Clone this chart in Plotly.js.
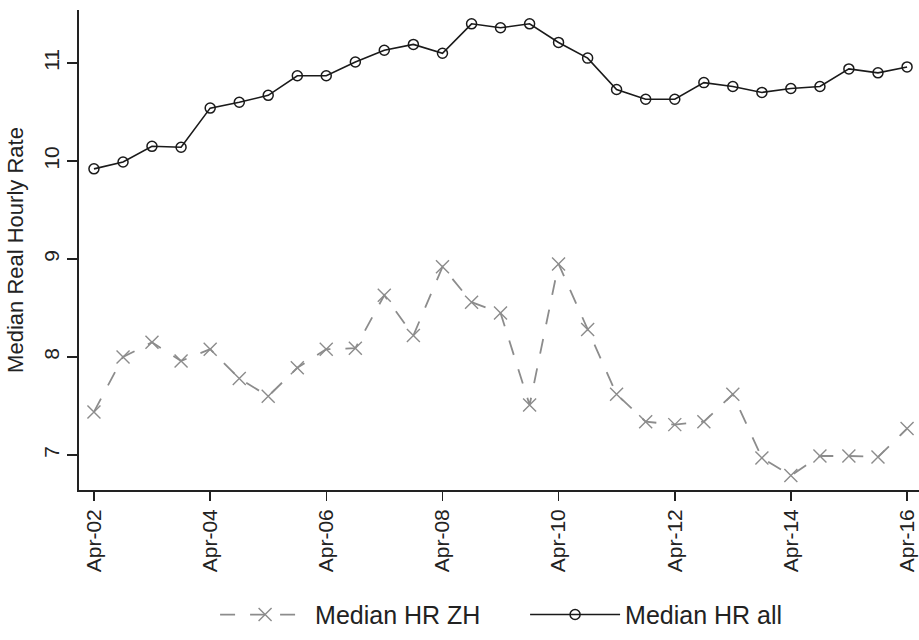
<!DOCTYPE html>
<html>
<head>
<meta charset="utf-8">
<script src="https://cdn.plot.ly/plotly-3.0.1.min.js"></script>
<style>html,body{margin:0;padding:0;background:#fff;} #chart{width:919px;height:640px;}</style>
</head>
<body>
<div id="chart"></div>
<script>
const periods = ["2002-04-01","2002-10-01","2003-04-01","2003-10-01","2004-04-01","2004-10-01",
  "2005-04-01","2005-10-01","2006-04-01","2006-10-01","2007-04-01","2007-10-01",
  "2008-04-01","2008-10-01","2009-04-01","2009-10-01","2010-04-01","2010-10-01",
  "2011-04-01","2011-10-01","2012-04-01","2012-10-01","2013-04-01","2013-10-01",
  "2014-04-01","2014-10-01","2015-04-01","2015-10-01","2016-04-01"];
const medianZH = [7.44,8.00,8.15,7.96,8.08,7.78,7.60,7.89,8.08,8.09,8.63,8.22,8.92,
  8.56,8.45,7.51,8.95,8.28,7.62,7.34,7.31,7.34,7.62,6.97,6.79,6.99,6.99,6.98,7.27];
const medianAll = [9.92,9.99,10.15,10.14,10.54,10.60,10.67,10.87,10.87,11.01,11.13,11.19,11.10,
  11.40,11.36,11.40,11.21,11.05,10.73,10.63,10.63,10.80,10.76,10.70,10.74,10.76,10.94,10.90,10.96];
const tickDates = ["2002-04-01","2004-04-01","2006-04-01","2008-04-01","2010-04-01","2012-04-01","2014-04-01","2016-04-01"];
const yTicks = [7,8,9,10,11];

const font = "Liberation Sans, Arial, sans-serif";
const traces = [
  {x: periods, y: medianZH, name: "Median HR ZH", type: "scatter", mode: "lines+markers",
   line: {color: "#8c8c8c", width: 1.8, dash: "longdash"},
   marker: {symbol: "x-thin-open", size: 13, color: "#8c8c8c", line: {color: "#8c8c8c", width: 1.4}}},
  {x: periods, y: medianAll, name: "Median HR all", type: "scatter", mode: "lines+markers",
   line: {color: "#1a1a1a", width: 1.6},
   marker: {symbol: "circle-open", size: 10, color: "#1a1a1a", line: {color: "#1a1a1a", width: 1.5}}}
];
const layout = {
  width: 919, height: 640,
  margin: {l: 79, r: 0, t: 10, b: 150},
  paper_bgcolor: "#fff", plot_bgcolor: "#fff",
  font: {family: font, color: "#222", size: 21},
  showlegend: true,
  legend: {orientation: "h", x: 0.162, xanchor: "left", y: -0.26, yanchor: "middle",
    font: {family: font, size: 25, color: "#222"}, itemwidth: 90, entrywidth: 205,
    bgcolor: "rgba(0,0,0,0)"},
  xaxis: {type: "date", range: ["2001-12-28", "2016-06-15"], tickvals: tickDates, tickformat: "%b-%y",
    tickangle: -90, ticks: "outside", ticklen: 9, tickwidth: 1.5, tickcolor: "#222",
    showline: true, linecolor: "#222", linewidth: 1.8, showgrid: false, zeroline: false,
    tickfont: {family: font, size: 21, color: "#222"}},
  yaxis: {range: [6.643, 11.541], tickvals: yTicks, tickangle: -90, ticks: "outside", ticklen: 10,
    tickwidth: 1.5, tickcolor: "#222", showline: true, linecolor: "#222", linewidth: 1.8,
    showgrid: false, zeroline: false, tickfont: {family: font, size: 21, color: "#222"},
    title: {text: "Median Real Hourly Rate", font: {family: font, size: 22, color: "#222"}, standoff: 10}}
};
Plotly.newPlot("chart", traces, layout, {displayModeBar: false, staticPlot: true});
</script>
</body>
</html>
